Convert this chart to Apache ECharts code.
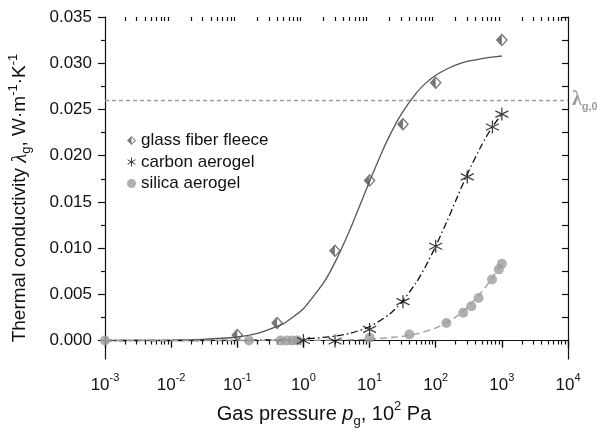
<!DOCTYPE html>
<html>
<head>
<meta charset="utf-8">
<script src="https://cdn.jsdelivr.net/npm/echarts@6/dist/echarts.min.js"></script>
<style>
html, body { margin: 0; padding: 0; background: #fff; }
#chart { width: 597px; height: 431px; }
</style>
</head>
<body>
<div id="chart"></div>
<script>
// measured points: gas pressure in 10^2 Pa, conductivity in W/(m K)
var glassP = [0.1, 0.4, 3, 10, 32, 100, 1000];
var glassL = [0.0006, 0.0019, 0.0097, 0.0173, 0.0234, 0.0279, 0.0325];

var carbonP = [1, 3, 10, 32, 100, 300, 720, 1000];
var carbonL = [0.0000, -0.00005, 0.0012, 0.0042, 0.0102, 0.0177, 0.0231, 0.0245];

var silicaP = [0.001, 0.15, 0.45, 0.56, 0.68, 0.81, 10, 40, 145, 260, 345, 445, 710, 900, 1000];
var silicaL = [0, 0, 0, 0, 0, 0, 0.0003, 0.00065, 0.0019, 0.0030, 0.0037, 0.0046, 0.0066, 0.0077, 0.0083];

// fit curves
var glassFitP = [0.001, 0.01, 0.03, 0.1, 0.2, 0.5, 1, 2, 3, 5, 7, 10, 15, 20, 30, 50, 70, 100, 150, 200, 300, 500, 700, 1000];
var glassFitL = [0.000004, 0.00004, 0.00012, 0.00038, 0.00076, 0.00182, 0.00344, 0.0062, 0.00845, 0.0119, 0.01447,
                 0.01722, 0.0202, 0.02214, 0.02447, 0.02672, 0.02782, 0.0287, 0.0294, 0.0298, 0.0302, 0.0305, 0.03065, 0.03078];

var carbonFitP = [0.001, 0.01, 0.1, 1, 3, 5, 10, 20, 30, 50, 70, 100, 150, 200, 300, 500, 700, 1000];
var carbonFitL = [0, 0.0000016, 0.000016, 0.00016, 0.00047, 0.00077, 0.00149, 0.00284, 0.00406, 0.0062, 0.008,
                  0.0102, 0.013, 0.0151, 0.018, 0.0212, 0.023, 0.0245];

var silicaFitP = [0.001, 0.1, 1, 3, 10, 30, 50, 100, 200, 300, 500, 700, 1000];
var silicaFitL = [0, 0.0000015, 0.000015, 0.000044, 0.000145, 0.00043, 0.0007, 0.00135, 0.00253, 0.00357, 0.00529, 0.00668, 0.0083];

var lambdaGas0 = 0.026;

// axis ticks
var xDecades = [0.001, 0.01, 0.1, 1, 10, 100, 1000, 10000];
var yTicks = [0, 0.005, 0.01, 0.015, 0.02, 0.025, 0.03, 0.035];
var yMinor = [0.0025, 0.0075, 0.0125, 0.0175, 0.0225, 0.0275, 0.0325];

var xMinor = [];
xDecades.slice(0, -1).forEach(function (d) {
    for (var k = 2; k <= 9; k++) xMinor.push(Number((d * k).toPrecision(3)));
});

function pairs(xs, ys) {
    return xs.map(function (x, i) { return [x, ys[i]]; });
}

var FONT = 'Liberation Sans';
var DARK = '#555555';
var LIGHT = '#9c9c9c';

// half filled diamond: outline ring + filled left half
var halfDiamond = 'path://M10 0L20 10L10 20L0 10Z M10 3L3 10L10 17L17 10Z M10 0L10 20L0 10Z';
var asterisk = 'path://M10 0L10 20M1.3 5L18.7 15M18.7 5L1.3 15';

function xAxis(pos, extra) {
    var base = {
        type: 'log', logBase: 10, min: 0.001, max: 10000, position: pos,
        splitLine: { show: false },
        axisLine: { show: false },
        axisLabel: { show: false },
        axisTick: { show: false }
    };
    return Object.assign(base, extra);
}

function yAxis(pos, extra) {
    var base = {
        type: 'value', min: -0.002, max: 0.035, position: pos,
        splitLine: { show: false },
        axisLine: { show: false },
        axisLabel: { show: false },
        axisTick: { show: false }
    };
    return Object.assign(base, extra);
}

var lineBlack = { color: '#111', width: 1.2 };

var option = {
    animation: false,
    backgroundColor: '#fff',
    textStyle: { fontFamily: FONT },
    grid: { left: 105, right: 29, top: 17, bottom: 72, outerBoundsMode: 'none', containLabel: false },
    legend: {
        orient: 'vertical', left: 127, top: 132, padding: 0,
        itemWidth: 9, itemHeight: 9, itemGap: 4.5,
        textStyle: { fontFamily: FONT, fontSize: 17, color: '#111' },
        data: [
            { name: 'glass fiber fleece', itemStyle: { borderWidth: 0 } },
            { name: 'carbon aerogel', itemStyle: { borderWidth: 1, borderColor: '#111' } },
            { name: 'silica aerogel', itemStyle: { borderWidth: 0 } }
        ]
    },
    xAxis: [
        xAxis('bottom', {
            axisLine: { show: true, lineStyle: lineBlack },
            axisTick: { show: true, customValues: xDecades, length: 7, lineStyle: lineBlack },
            axisLabel: {
                show: true, customValues: xDecades, margin: 13,
                formatter: function (v) {
                    return '{b|10}{s|' + Math.round(Math.log10(v)) + '}';
                },
                rich: {
                    b: { fontFamily: FONT, fontSize: 17, color: '#111', lineHeight: 22, verticalAlign: 'bottom' },
                    s: { fontFamily: FONT, fontSize: 11, color: '#111', lineHeight: 11, verticalAlign: 'top' }
                }
            },
            name: '{t|Gas pressure }{i|p}{sb|g}{t|, 10}{sp|2}{t| Pa}',
            nameLocation: 'middle', nameGap: 41,
            nameTextStyle: {
                padding: [0, 25, 0, 0],
                rich: {
                    t: { fontFamily: FONT, fontSize: 20, color: '#111', lineHeight: 28, verticalAlign: 'middle' },
                    i: { fontFamily: FONT, fontSize: 20, fontStyle: 'italic', color: '#111', lineHeight: 28, verticalAlign: 'middle' },
                    sb: { fontFamily: FONT, fontSize: 13, color: '#111', lineHeight: 13, verticalAlign: 'bottom' },
                    sp: { fontFamily: FONT, fontSize: 13, color: '#111', lineHeight: 13, verticalAlign: 'top' }
                }
            }
        }),
        xAxis('bottom', {
            axisTick: { show: true, customValues: xMinor, length: 4, lineStyle: lineBlack }
        }),
        xAxis('top', {
            axisLine: { show: true, lineStyle: lineBlack },
            axisTick: { show: true, inside: true, customValues: xDecades, length: 7, lineStyle: lineBlack }
        }),
        xAxis('top', {
            axisTick: { show: true, inside: true, customValues: xMinor, length: 4, lineStyle: lineBlack }
        })
    ],
    yAxis: [
        yAxis('left', {
            axisLine: { show: true, lineStyle: lineBlack },
            axisTick: { show: true, customValues: yTicks, length: 7, lineStyle: lineBlack },
            axisLabel: {
                show: true, customValues: yTicks, margin: 13,
                fontFamily: FONT, fontSize: 17, color: '#111',
                formatter: function (v) { return v.toFixed(3); }
            },
            name: '{t|Thermal conductivity }{i|λ}{sb|g}{t|, W·m}{sp|-1}{t|·K}{sp|-1}',
            nameLocation: 'middle', nameRotate: 90, nameGap: 72,
            nameTextStyle: {
                padding: [0, 20, 0, 0],
                rich: {
                    t: { fontFamily: FONT, fontSize: 19, color: '#111', lineHeight: 26, verticalAlign: 'middle' },
                    i: { fontFamily: 'Liberation Serif', fontSize: 21, fontStyle: 'italic', color: '#111', lineHeight: 26, verticalAlign: 'middle' },
                    sb: { fontFamily: FONT, fontSize: 13, color: '#111', lineHeight: 13, verticalAlign: 'bottom' },
                    sp: { fontFamily: FONT, fontSize: 13, color: '#111', lineHeight: 13, verticalAlign: 'top' }
                }
            }
        }),
        yAxis('left', {
            axisTick: { show: true, customValues: yMinor, length: 4, lineStyle: lineBlack }
        }),
        yAxis('right', {
            axisLine: { show: true, lineStyle: lineBlack },
            axisTick: { show: true, inside: true, customValues: yTicks.concat(yMinor), length: 6, lineStyle: lineBlack }
        })
    ],
    series: [
        {
            name: 'glass fit', type: 'line', data: pairs(glassFitP, glassFitL),
            showSymbol: false, smooth: 0.15, silent: true,
            lineStyle: { color: DARK, width: 1.3 },
            markLine: {
                silent: true, symbol: ['none', 'none'], precision: 4,
                lineStyle: { color: LIGHT, type: [4, 3], width: 1.3 },
                label: {
                    show: true, position: 'end', distance: 4,
                    formatter: '{l|λ}{s|g,0}',
                    rich: {
                        l: { fontFamily: 'Liberation Serif', fontWeight: 'bold', fontSize: 20, color: LIGHT, lineHeight: 24, verticalAlign: 'middle' },
                        s: { fontFamily: FONT, fontWeight: 'bold', fontSize: 11, color: LIGHT, lineHeight: 11, verticalAlign: 'bottom' }
                    }
                },
                data: [{ yAxis: lambdaGas0 }]
            }
        },
        {
            name: 'carbon fit', type: 'line', data: pairs(carbonFitP, carbonFitL),
            showSymbol: false, smooth: 0.2, silent: true,
            lineStyle: { color: '#111', width: 1.3, type: [7, 3, 1.5, 3] }
        },
        {
            name: 'silica fit', type: 'line', data: pairs(silicaFitP, silicaFitL),
            showSymbol: false, smooth: 0.2, silent: true,
            lineStyle: { color: LIGHT, width: 1.3, type: [7, 4] }
        },
        {
            name: 'glass fiber fleece', type: 'scatter', data: pairs(glassP, glassL),
            symbol: halfDiamond, symbolSize: [12, 13],
            itemStyle: { color: DARK, borderWidth: 0 }, z: 5
        },
        {
            name: 'carbon aerogel', type: 'scatter', data: pairs(carbonP, carbonL),
            symbol: asterisk, symbolSize: 13,
            itemStyle: { color: '#111', borderColor: '#111', borderWidth: 1.3 }, z: 5
        },
        {
            name: 'silica aerogel', type: 'scatter', data: pairs(silicaP, silicaL),
            symbol: 'circle', symbolSize: 10,
            itemStyle: { color: LIGHT, borderWidth: 0 }, z: 4
        }
    ]
};

var chart = echarts.init(document.getElementById('chart'), null, { renderer: 'canvas' });
chart.setOption(option);
</script>
</body>
</html>
